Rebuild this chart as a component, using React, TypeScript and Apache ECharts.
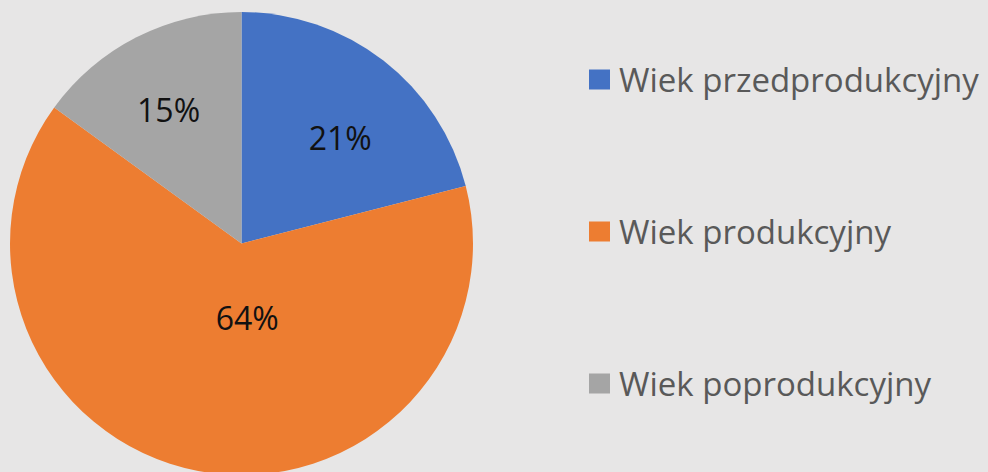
import React, { useEffect, useRef } from "react";
import * as echarts from "echarts";

const categories = ["Wiek przedprodukcyjny", "Wiek produkcyjny", "Wiek poprodukcyjny"];
const values = [21, 64, 15];
const colors = ["#4472c4", "#ed7d31", "#a5a5a5"];
const labelOffsets: [number, number][] = [
  [26, -12],
  [28, -43],
  [-19, -28],
];

export default function App() {
  const ref = useRef<HTMLDivElement>(null);
  useEffect(() => {
    if (!ref.current) return;
    const chart = echarts.init(ref.current, undefined, { renderer: "svg" });
    chart.setOption({
      animation: false,
      backgroundColor: "#e7e6e6",
      legend: {
        orient: "vertical",
        left: 584,
        top: 58,
        icon: "rect",
        itemWidth: 21,
        itemHeight: 20,
        itemGap: 119,
        selectedMode: false,
        data: categories,
        textStyle: {
          fontFamily: "Open Sans",
          fontSize: 33,
          lineHeight: 32,
          color: "#595959",
          padding: [0, 0, 0, 4],
        },
      },
      series: [
        {
          type: "pie",
          center: [241.5, 243.5],
          radius: 231.5,
          startAngle: 90,
          clockwise: true,
          avoidLabelOverlap: false,
          itemStyle: { borderWidth: 0 },
          emphasis: { disabled: true },
          label: {
            show: true,
            position: "inside",
            formatter: "{c}%",
            fontFamily: "Open Sans",
            fontSize: 32,
            color: "#111111",
          },
          labelLine: { show: false },
          data: categories.map((name, i) => ({
            name,
            value: values[i],
            itemStyle: { color: colors[i] },
            label: { offset: labelOffsets[i] },
          })),
        },
      ],
    });
    return () => chart.dispose();
  }, []);
  return (
    <div
      ref={ref}
      style={{ position: "fixed", left: 0, top: 0, width: 988, height: 472 }}
    />
  );
}
